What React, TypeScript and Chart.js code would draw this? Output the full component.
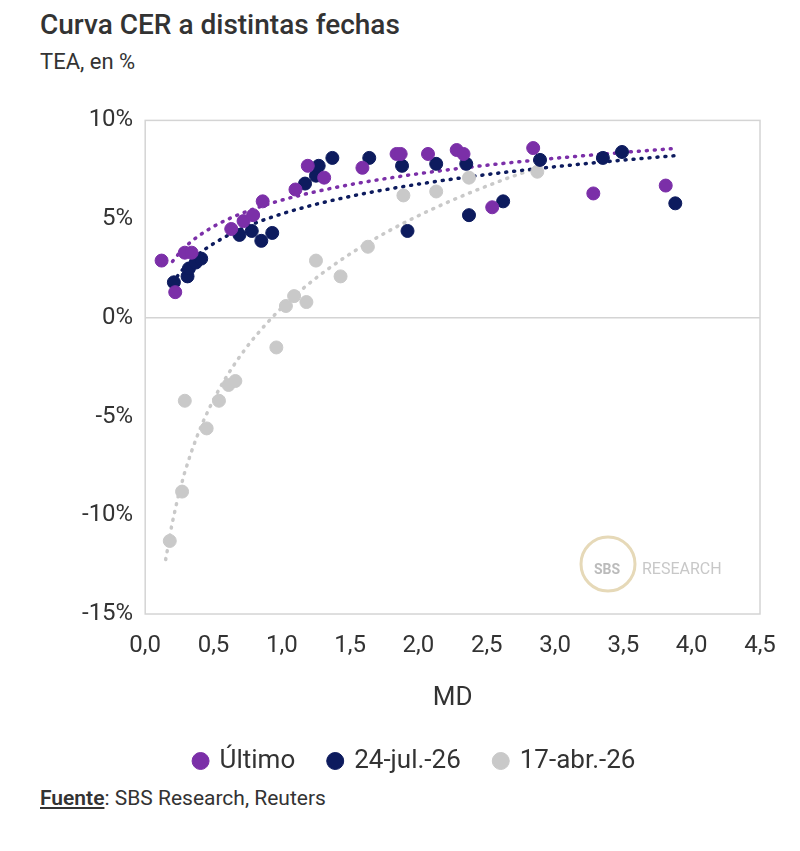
import React, { useEffect, useRef } from "react";
import { Chart, registerables } from "chart.js";
Chart.register(...registerables);

const ultimoX = [0.12,0.22,0.29,0.34,0.63,0.72,0.79,0.86,1.10,1.19,1.31,1.59,1.84,1.87,2.07,2.28,2.33,2.54,2.84,3.28,3.81];
const ultimoY = [2.9,1.3,3.3,3.3,4.5,4.9,5.2,5.9,6.5,7.7,7.1,7.6,8.3,8.3,8.3,8.5,8.3,5.6,8.6,6.3,6.7];
const julX = [0.21,0.31,0.32,0.37,0.41,0.69,0.78,0.85,0.93,1.17,1.25,1.27,1.37,1.64,1.88,1.92,2.13,2.35,2.37,2.62,2.89,3.35,3.49,3.88];
const julY = [1.8,2.1,2.5,2.8,3.0,4.2,4.4,3.9,4.3,6.8,7.2,7.7,8.1,8.1,7.7,4.4,7.8,7.8,5.2,5.9,8.0,8.1,8.4,5.8];
const abrX = [0.18,0.27,0.29,0.45,0.54,0.61,0.66,0.96,1.03,1.09,1.18,1.25,1.43,1.63,1.89,2.13,2.37,2.87];
const abrY = [-11.3,-8.8,-4.2,-5.6,-4.2,-3.4,-3.2,-1.5,0.6,1.1,0.8,2.9,2.1,3.6,6.2,6.4,7.1,7.4];
const xTicks = ["0,0","0,5","1,0","1,5","2,0","2,5","3,0","3,5","4,0","4,5"];
const yTicks = ["-15%","-10%","-5%","0%","5%","10%"];

const PURPLE = "#7B2FA8", NAVY = "#0D1B5E", GRAY = "#C9C9C9";

function pts(xs: number[], ys: number[]) { return xs.map((x, i) => ({ x, y: ys[i] })); }
function logFit(xs: number[], ys: number[], from: number, to: number, n: number) {
  const lx = xs.map(Math.log); const m = lx.length;
  const mx = lx.reduce((a, b) => a + b, 0) / m, my = ys.reduce((a, b) => a + b, 0) / m;
  let sxy = 0, sxx = 0;
  lx.forEach((v, i) => { sxy += (v - mx) * (ys[i] - my); sxx += (v - mx) ** 2; });
  const b = sxy / sxx, a = my - b * mx;
  const out = [] as { x: number; y: number }[];
  for (let i = 0; i <= n; i++) { const x = from + (to - from) * i / n; out.push({ x, y: a + b * Math.log(x) }); }
  return out;
}

export default function App() {
  const ref = useRef<HTMLCanvasElement>(null);
  useEffect(() => {
    const trend = (data: any, color: string) => ({ type: "line", data, borderColor: color, borderWidth: 3.5, borderDash: [1, 7], borderCapStyle: "round", pointRadius: 0, fill: false, label: "_t" });
    const scatter = (label: string, data: any, color: string) => ({ type: "scatter", label, data, backgroundColor: color, borderColor: color, pointRadius: 6.5, pointHoverRadius: 6.5 });
    const frame = {
      id: "frame",
      afterDraw(c: any) {
        const { ctx, chartArea: a } = c;
        ctx.save();
        ctx.strokeStyle = "#d4d4d4"; ctx.lineWidth = 1.5;
        ctx.strokeRect(a.left, a.top, a.right - a.left, a.bottom - a.top);
        ctx.font = "16px Roboto"; ctx.fillStyle = "#c8c8c8";
        ctx.fillText("RESEARCH", a.right - 118, a.bottom - 44);
        ctx.strokeStyle = "#e6d9b8"; ctx.lineWidth = 3;
        ctx.beginPath(); ctx.arc(a.right - 152, a.bottom - 50, 27, 0, Math.PI * 2); ctx.stroke();
        ctx.font = "bold 14px Roboto"; ctx.fillStyle = "#bbb"; ctx.fillText("SBS", a.right - 166, a.bottom - 44);
        ctx.restore();
      },
    };
    const chart = new Chart(ref.current!, {
      type: "scatter",
      data: {
        datasets: [
          scatter("Último", pts(ultimoX, ultimoY), PURPLE),
          scatter("24-jul.-26", pts(julX, julY), NAVY),
          scatter("17-abr.-26", pts(abrX, abrY), GRAY),
          trend(logFit(ultimoX, ultimoY, 0.2, 3.85, 60), PURPLE),
          trend(logFit(julX, julY, 0.2, 3.9, 60), NAVY),
          trend(logFit(abrX, abrY, 0.15, 2.9, 60), GRAY),
        ] as any,
      },
      options: {
        animation: false, responsive: false,
        layout: { padding: { left: 36, right: 44 } },
        plugins: {
          tooltip: { enabled: false },
          legend: {
            position: "bottom",
            labels: { filter: (i: any) => i.text !== "_t", usePointStyle: true, pointStyle: "circle", boxWidth: 12, boxHeight: 12, padding: 34, color: "#333", font: { size: 26, family: "Roboto" } },
          },
        },
        scales: {
          x: {
            type: "linear", min: 0, max: 4.5,
            title: { display: true, text: "MD", color: "#333", font: { size: 26, family: "Roboto" }, padding: { top: 12, bottom: 0 } },
            ticks: { stepSize: 0.5, padding: 10, color: "#333", font: { size: 24, family: "Roboto" }, callback: (_v: any, i: number) => xTicks[i] },
            grid: { display: false }, border: { display: false },
          },
          y: {
            min: -15, max: 10,
            ticks: { stepSize: 5, padding: 12, color: "#333", font: { size: 24, family: "Roboto" }, callback: (_v: any, i: number) => yTicks[i] },
            grid: { color: (c: any) => (c.tick && c.tick.value === 0 ? "#d4d4d4" : "transparent"), lineWidth: 1.5, drawTicks: false },
            border: { display: false },
          },
        },
      } as any,
      plugins: [frame],
    });
    return () => chart.destroy();
  }, []);
  return (
    <div style={{ fontFamily: "Roboto, sans-serif", color: "#333", width: 784 }}>
      <div style={{ fontSize: 28, fontWeight: 500, marginTop: 0, marginLeft: 32 }}>Curva CER a distintas fechas</div>
      <div style={{ fontSize: 22, marginLeft: 32, marginTop: 8 }}>TEA, en %</div>
      <canvas ref={ref} width={770} height={690} style={{ marginLeft: 26, marginTop: 20, display: "block" }} />
      <div style={{ fontSize: 21, marginLeft: 32, marginTop: 2 }}><b style={{ textDecoration: "underline", fontWeight: 600 }}>Fuente</b>: SBS Research, Reuters</div>
    </div>
  );
}
